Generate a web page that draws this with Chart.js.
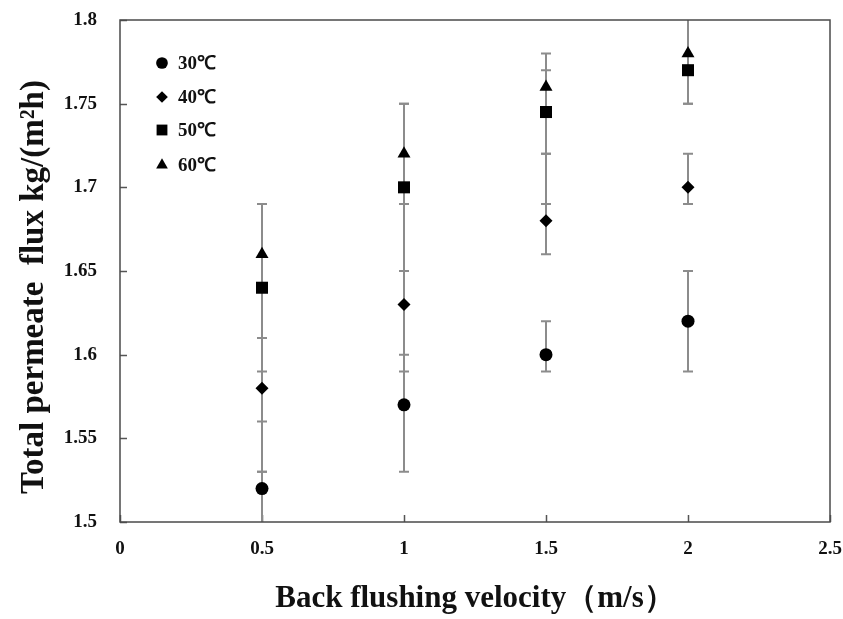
<!DOCTYPE html>
<html>
<head>
<meta charset="utf-8">
<script src="https://cdn.jsdelivr.net/npm/chart.js@4.4.1/dist/chart.umd.min.js"></script>
<style>
  html, body { margin: 0; padding: 0; background: #fff; }
  #wrap { width: 843px; height: 619px; position: relative; }
</style>
</head>
<body>
<div id="wrap"><canvas id="fluxChart"></canvas></div>
<script>
// Back flushing velocity (m/s)
const velocities = [0.5, 1, 1.5, 2];

const seriesLabels = ['30℃', '40℃', '50℃', '60℃'];
const flux30 = [1.52, 1.57, 1.60, 1.62];
const flux40 = [1.58, 1.63, 1.68, 1.70];
const flux50 = [1.64, 1.70, 1.745, 1.77];
const flux60 = [1.66, 1.72, 1.76, 1.78];

// error bar bounds (low / high)
const low30 = [1.49, 1.53, 1.59, 1.59];
const high30 = [1.53, 1.60, 1.62, 1.65];
const low40 = [1.53, 1.59, 1.66, 1.69];
const high40 = [1.61, 1.65, 1.72, 1.72];
const low50 = [1.56, 1.65, 1.69, 1.75];
const high50 = [1.69, 1.75, 1.77, 1.82];
const low60 = [1.59, 1.69, 1.72, 1.75];
const high60 = [1.69, 1.75, 1.78, 1.82];

const xTicks = [0, 0.5, 1, 1.5, 2, 2.5];
const yTicks = [1.5, 1.55, 1.6, 1.65, 1.7, 1.75, 1.8];

const FONT = "'Liberation Serif', 'Times New Roman', serif";
const INK = '#111111';

const seriesValues = [flux30, flux40, flux50, flux60];
const seriesLow = [low30, low40, low50, low60];
const seriesHigh = [high30, high40, high50, high60];
const pointStyles = [
  { style: 'circle', radius: 6.5 },
  { style: 'rectRot', radius: 6.5 },
  { style: 'rect', radius: 8.5 },
  { style: 'triangle', radius: 7.5 }
];

const datasets = seriesValues.map((vals, s) => ({
  label: seriesLabels[s],
  data: velocities.map((v, i) => ({ x: v, y: vals[i] })),
  pointStyle: pointStyles[s].style,
  pointRadius: pointStyles[s].radius,
  pointHoverRadius: pointStyles[s].radius,
  backgroundColor: '#000',
  borderColor: '#000',
  borderWidth: 0,
  showLine: false
}));

// cadre, graduations intérieures et barres d'erreur
const framePlugin = {
  id: 'frameAndErrors',
  beforeDatasetsDraw(chart) {
    const { ctx, chartArea: a, scales: { x, y } } = chart;
    ctx.save();

    // graduations vers l'intérieur
    ctx.strokeStyle = '#555';
    ctx.lineWidth = 1.5;
    ctx.beginPath();
    yTicks.forEach(v => {
      const py = Math.round(y.getPixelForValue(v)) + 0.5;
      ctx.moveTo(a.left, py);
      ctx.lineTo(a.left + 7, py);
    });
    xTicks.forEach(v => {
      const px = Math.round(x.getPixelForValue(v)) + 0.5;
      ctx.moveTo(px, a.bottom);
      ctx.lineTo(px, a.bottom - 7);
    });
    ctx.stroke();

    // barres d'erreur
    ctx.beginPath();
    ctx.rect(a.left, a.top, a.right - a.left, a.bottom - a.top);
    ctx.clip();
    ctx.strokeStyle = '#8c8c8c';
    ctx.lineWidth = 2;
    seriesLow.forEach((lows, s) => {
      velocities.forEach((v, i) => {
        const px = x.getPixelForValue(v);
        const yl = y.getPixelForValue(lows[i]);
        const yh = y.getPixelForValue(seriesHigh[s][i]);
        ctx.beginPath();
        ctx.moveTo(px, yl);
        ctx.lineTo(px, yh);
        ctx.moveTo(px - 5, yl);
        ctx.lineTo(px + 5, yl);
        ctx.moveTo(px - 5, yh);
        ctx.lineTo(px + 5, yh);
        ctx.stroke();
      });
    });
    ctx.restore();

    // cadre
    ctx.save();
    ctx.strokeStyle = '#4a4a4a';
    ctx.lineWidth = 1.5;
    ctx.strokeRect(a.left, a.top, a.right - a.left, a.bottom - a.top);
    ctx.restore();
  },
  afterDraw(chart) {
    const { ctx } = chart;
    ctx.save();

    // légende dans la zone du graphique
    const rows = [63, 97, 130, 165];
    ctx.font = 'bold 19px ' + FONT;
    ctx.textBaseline = 'middle';
    ctx.textAlign = 'left';
    seriesLabels.forEach((lab, s) => {
      ctx.fillStyle = '#000';
      Chart.helpers.drawPoint(ctx, {
        pointStyle: pointStyles[s].style,
        radius: pointStyles[s].radius * 0.9,
        rotation: 0,
        borderWidth: 0
      }, 162, rows[s]);
      ctx.fillStyle = INK;
      ctx.fillText(lab, 178, rows[s] + 1);
    });

    // titre de l'axe Y
    ctx.translate(34, 287);
    ctx.rotate(-Math.PI / 2);
    ctx.textAlign = 'center';
    ctx.font = 'bold 33px ' + FONT;
    ctx.fillStyle = INK;
    ctx.fillText('Total permeate  flux kg/(m²h)', 0, 0);
    ctx.restore();
  }
};

const fmt = v => String(parseFloat(Number(v).toFixed(2)));

// pas de marge automatique due aux étiquettes
const noLabelPadding = scale => {
  scale.paddingTop = 0;
  scale.paddingBottom = 0;
  scale.paddingLeft = 0;
  scale.paddingRight = 0;
};

new Chart(document.getElementById('fluxChart'), {
  type: 'scatter',
  data: { datasets: datasets },
  options: {
    responsive: true,
    maintainAspectRatio: false,
    animation: false,
    layout: { padding: { top: 20, right: 13, left: 0, bottom: 0 } },
    plugins: {
      legend: { display: false },
      tooltip: { enabled: false }
    },
    scales: {
      x: {
        type: 'linear',
        min: 0,
        max: 2.5,
        afterBuildTicks: scale => { scale.ticks = xTicks.map(v => ({ value: v })); },
        afterFit: scale => { scale.height = 97; noLabelPadding(scale); },
        grid: { display: false },
        border: { display: false },
        ticks: {
          padding: 8,
          color: INK,
          font: { family: FONT, size: 19, weight: 'bold' },
          callback: fmt,
          maxRotation: 0
        },
        title: {
          display: true,
          text: 'Back flushing velocity（m/s）',
          color: INK,
          font: { family: FONT, size: 31, weight: 'bold' },
          padding: { top: 0, bottom: 1 }
        }
      },
      y: {
        type: 'linear',
        min: 1.5,
        max: 1.8,
        afterBuildTicks: scale => { scale.ticks = yTicks.map(v => ({ value: v })); },
        afterFit: scale => { scale.width = 120; noLabelPadding(scale); },
        grid: { display: false },
        border: { display: false },
        ticks: {
          padding: 15,
          color: INK,
          font: { family: FONT, size: 19, weight: 'bold' },
          callback: fmt
        }
      }
    }
  },
  plugins: [framePlugin]
});
</script>
</body>
</html>
